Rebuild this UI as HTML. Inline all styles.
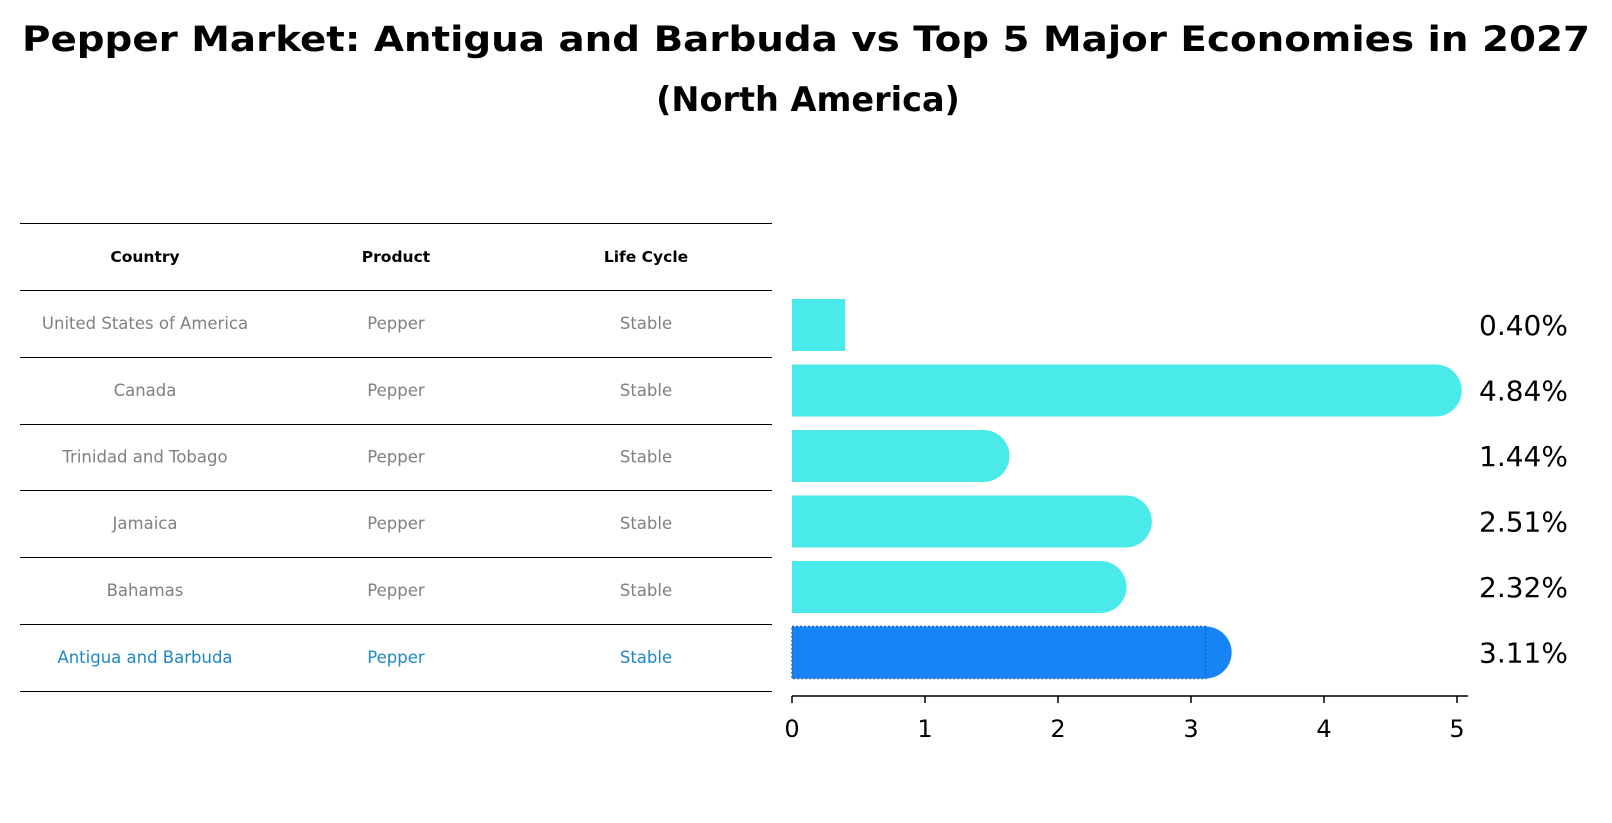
<!DOCTYPE html>
<html><head><meta charset="utf-8"><style>
body{margin:0;background:#fff;}
svg{display:block;font-family:"DejaVu Sans","Liberation Sans",sans-serif;}
</style></head><body>
<svg id="chart" width="1612" height="823" viewBox="0 0 1612 823">
<text x="806" y="51" text-anchor="middle" font-size="35" font-weight="bold" textLength="1568" lengthAdjust="spacingAndGlyphs">Pepper Market: Antigua and Barbuda vs Top 5 Major Economies in 2027</text>
<text x="808" y="111" text-anchor="middle" font-size="33.5" font-weight="bold">(North America)</text>
<g id="table"></g>
<g id="bars"></g>
<g id="xaxis"></g>
</svg>
<script>
const countries=["United States of America","Canada","Trinidad and Tobago","Jamaica","Bahamas","Antigua and Barbuda"];
const products=["Pepper","Pepper","Pepper","Pepper","Pepper","Pepper"];
const lifeCycles=["Stable","Stable","Stable","Stable","Stable","Stable"];
const values=[0.40,4.84,1.44,2.51,2.32,3.11];
const valueLabels=["0.40%","4.84%","1.44%","2.51%","2.32%","3.11%"];
const xTicks=[0,1,2,3,4,5];
const highlightIndex=5;

const NS="http://www.w3.org/2000/svg";
function mk(tag,attrs,parent,text){const e=document.createElementNS(NS,tag);for(const k in attrs)e.setAttribute(k,attrs[k]);if(text!==undefined)e.textContent=text;parent.appendChild(e);return e;}
const x0=792,unit=133;
const xScale=v=>x0+v*unit;
const barTop0=299,pitch=65.5,barH=52;
const yCenter=i=>barTop0+barH/2+i*pitch;

// table
const tbl=document.getElementById('table');
const lineYs=[223.5,290.5,357.5,424.5,490.5,557.5,624.5,691.5];
lineYs.forEach((y,i)=>{const l=mk('line',{x1:20,x2:772,y1:y,y2:y,stroke:'#000','stroke-width':1,'shape-rendering':'crispEdges'},tbl);

});
const colX=[145,396,646];
["Country","Product","Life Cycle"].forEach((h,j)=>{const t=mk('text',{x:colX[j],y:262,'text-anchor':'middle','font-size':15.5,'font-weight':'bold'},tbl,h);

});
countries.forEach((c,i)=>{
  const y=(lineYs[i+1]+lineYs[i+2])/2+5;
  const col=i===highlightIndex?'#1f87c8':'#808080';
  [c,products[i],lifeCycles[i]].forEach((v,j)=>{
    const t=mk('text',{x:colX[j],y:y,'text-anchor':'middle','font-size':16.5,fill:col},tbl,v);
    
    
  });
});

// bars
const bars=document.getElementById('bars');
values.forEach((v,i)=>{
  const top=yCenter(i)-barH/2, xe=xScale(v);
  const hi=i===highlightIndex;
  const fill=hi?'#1784f5':'#4aeaea';
  const g=mk('g',{},bars);
  
  
  if(v>0.6){
    mk('circle',{cx:xe,cy:yCenter(i),r:barH/2,fill:fill},g);
  }
  const r=mk('rect',{x:x0,y:top,width:xe-x0,height:barH,fill:fill},g);
  if(hi){r.setAttribute('stroke','#1a5fc0');r.setAttribute('stroke-width','1.5');r.setAttribute('stroke-dasharray','2,2');}
  const t=mk('text',{x:1479,y:yCenter(i)+10,'font-size':28},bars,valueLabels[i]);
  
  
});

// x axis
const xa=document.getElementById('xaxis');
const ay=696;
const sp=mk('line',{x1:x0,x2:1468,y1:ay,y2:ay,stroke:'#000','stroke-width':1.5},xa);


xTicks.forEach(v=>{
  const x=xScale(v);
  const tk=mk('line',{x1:x,x2:x,y1:ay,y2:ay+7,stroke:'#000','stroke-width':1.5},xa);
  
  
  const t=mk('text',{x:x,y:737,'text-anchor':'middle','font-size':24},xa,String(v));
  
  
});
</script>
</body></html>
